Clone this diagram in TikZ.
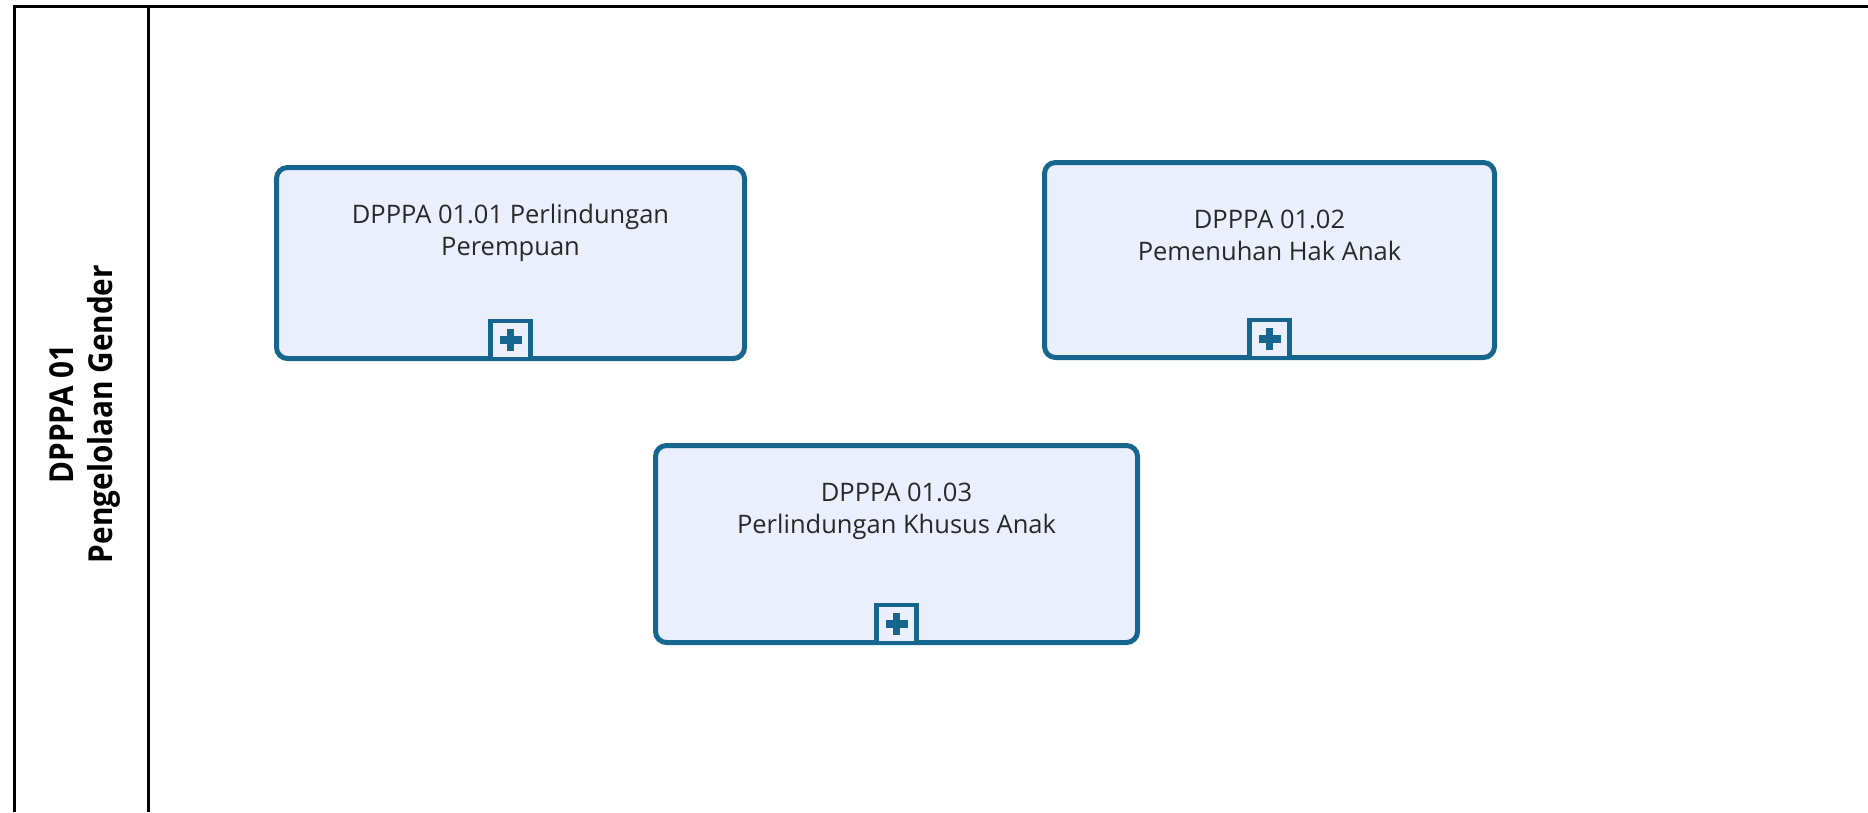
\documentclass[tikz,border=0pt]{standalone}
\usepackage{fontspec}
\setmainfont{Open Sans}
\newfontfamily\lanefont[FakeStretch=0.9]{Open Sans}
\usetikzlibrary{calc}
\definecolor{taskborder}{RGB}{22,101,142}
\definecolor{taskfill}{RGB}{235,239,252}
\definecolor{tasktextcol}{RGB}{40,40,40}
\tikzset{
  lanebox/.style={draw=black, line width=3pt},
  taskbox/.style={draw=taskborder, fill=taskfill, line width=5pt, rounded corners=11pt, inner sep=0pt},
  tasklabel/.style={align=center, text=tasktextcol, font=\fontsize{25.5}{32}\selectfont, inner sep=0pt, anchor=north},
  subproc/.style={draw=taskborder, fill=taskfill, line width=4.5pt, minimum width=40pt, minimum height=38pt, inner sep=0pt, anchor=south},
  crossfill/.style={fill=taskborder},
  lanelabel/.style={rotate=90, align=center, font=\lanefont\bfseries\fontsize{33}{39}\selectfont, inner sep=0pt}
}
\begin{document}
\begin{tikzpicture}[x=1pt,y=-1pt]
\useasboundingbox (0,0) rectangle (1868,812);
% pool and lane
\coordinate (tl) at (14,6);
\coordinate (tr) at (1868,6);
\coordinate (bl) at (14,812);
\coordinate (dt) at (148,6);
\coordinate (db) at (148,812);
\draw[lanebox] (bl) -- (tl) -- (tr);
\draw[lanebox] (dt) -- (db);
\node[lanelabel] (lane) at (84.5,414) {DPPPA 01\\Pengelolaan Gender};
% tasks
\node[taskbox, minimum width=468pt, minimum height=191pt] (t1) at (510.5,263) {};
\node[taskbox, minimum width=450pt, minimum height=195pt] (t2) at (1269.5,260) {};
\node[taskbox, minimum width=482pt, minimum height=197pt] (t3) at (896.5,544) {};
\node[tasklabel] (l1) at ($(t1.north)+(0,38.5)$) {DPPPA 01.01 Perlindungan\\Perempuan};
\node[tasklabel] (l2) at ($(t2.north)+(0,50)$) {DPPPA 01.02\\Pemenuhan Hak Anak};
\node[tasklabel] (l3) at ($(t3.north)+(0,40)$) {DPPPA 01.03\\Perlindungan Khusus Anak};
% sub-process markers
\foreach \t in {1,2,3}{
  \node[subproc] (m\t) at (t\t.south) {};
  \fill[crossfill] ($(m\t.center)+(-11,-3.75)$) rectangle ($(m\t.center)+(11,3.75)$);
  \fill[crossfill] ($(m\t.center)+(-3.75,-11)$) rectangle ($(m\t.center)+(3.75,11)$);
}
\end{tikzpicture}
\end{document}
